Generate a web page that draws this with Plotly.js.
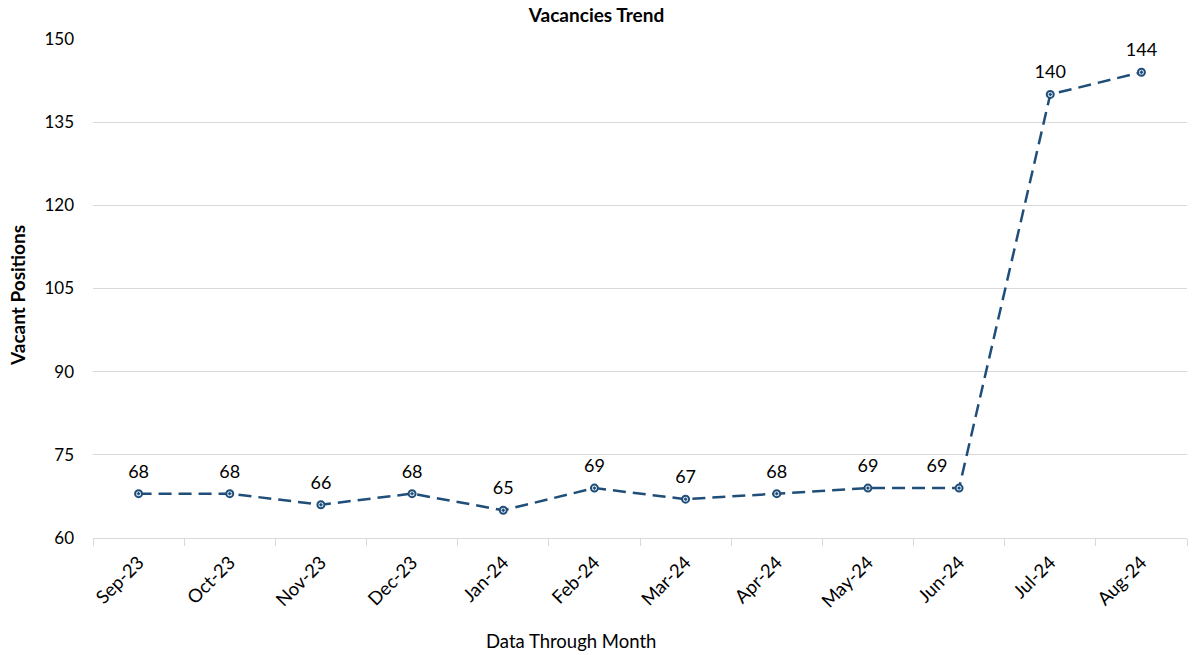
<!DOCTYPE html>
<html><head><meta charset="utf-8">
<script src="https://cdn.plot.ly/plotly-3.0.1.min.js"></script>
<style>body{margin:0}#c{width:1193px;height:655px}</style>
</head><body><div id="c"></div>
<script>
const months = ["Sep-23","Oct-23","Nov-23","Dec-23","Jan-24","Feb-24","Mar-24","Apr-24","May-24","Jun-24","Jul-24","Aug-24"];
const vacancies = [68,68,66,68,65,69,67,68,69,69,140,144];
const yTicks = [60,75,90,105,120,135,150];
const labelPos = ["top center","top center","top center","top center","top center","top center","top center","top center","top center","top left","top center","top center"];

const fnt = "Lato, 'Open Sans', sans-serif";
const lineTrace = {
  x: months, y: vacancies, type: "scatter", mode: "lines+markers",
  line: {color: "#1f4e79", width: 2.5, dash: "13px,7px"},
  marker: {symbol: "circle-dot", size: 7, color: "#dbe6f1", line: {color: "#1f4e79", width: 2}},
  hoverinfo: "skip"
};
const labelTrace = {
  x: months, y: vacancies, type: "scatter", mode: "markers+text",
  text: vacancies.map(String), textposition: labelPos,
  textfont: {family: fnt, size: 18, color: "#000"},
  marker: {size: 17, color: "rgba(0,0,0,0)"},
  cliponaxis: false, hoverinfo: "skip"
};
const layout = {
  width: 1193, height: 655,
  margin: {l: 93, r: 6, t: 39, b: 117},
  paper_bgcolor: "#fff", plot_bgcolor: "#fff",
  font: {family: fnt, color: "#000"},
  showlegend: false,
  title: {text: "<b>Vacancies Trend</b>", font: {size: 19, family: fnt}, x: 0.5, xanchor: "center", y: 0.977, yanchor: "middle"},
  xaxis: {
    type: "category", range: [-0.5, 11.5], tickangle: -45,
    tickfont: {size: 18.5, family: fnt}, tickson: "boundaries", ticks: "outside", ticklen: 7,
    tickcolor: "#d9d9d9", showline: true, linecolor: "#d9d9d9", linewidth: 1.3, showgrid: false,
    ticklabelstandoff: 5
  },
  yaxis: {
    range: [60, 150], tickvals: yTicks, ticktext: yTicks.map(String),
    tickfont: {size: 17, family: fnt}, showgrid: true, gridcolor: "#d9d9d9", gridwidth: 1,
    zeroline: false, showline: false, ticks: "", ticklabelstandoff: 18
  },
  annotations: [
    {text: "Data Through Month", xref: "paper", yref: "paper", x: (571-93)/1094, y: (538-641)/499,
     xanchor: "center", yanchor: "middle", showarrow: false, font: {size: 18.5, family: fnt}},
    {text: "<b>Vacant Positions</b>", xref: "paper", yref: "paper", x: (17-93)/1094, y: (538-296)/499,
     xanchor: "center", yanchor: "middle", textangle: -90, showarrow: false, font: {size: 19, family: fnt}}
  ]
};
Plotly.newPlot("c", [lineTrace, labelTrace], layout, {displayModeBar: false, staticPlot: true});
</script></body></html>
